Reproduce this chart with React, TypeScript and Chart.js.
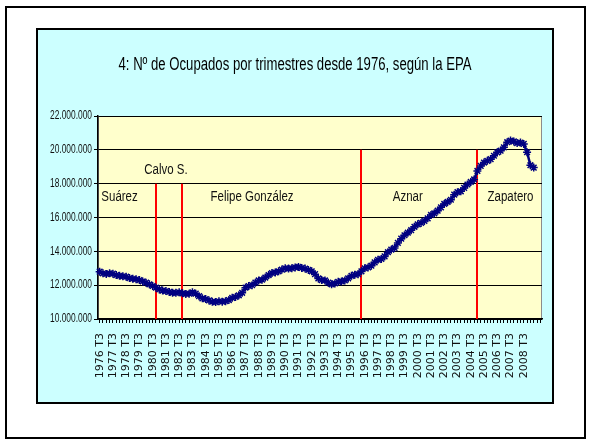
import React, { useEffect, useRef } from "react";
import { Chart, registerables } from "chart.js";

Chart.register(...registerables);

// ---- data ----
const TITLE = "4: Nº de Ocupados por trimestres desde 1976, según la EPA";

// Quarterly categories 1976 T3 … 2009 T4
const FIRST_YEAR = 1976;
const FIRST_QUARTER = 3;
const LAST_YEAR = 2009;
const LAST_QUARTER = 4;
const LAST_LABELED = "2008 T3";
const LABEL_EVERY = 4;

const QUARTERS: string[] = [];
for (let y = FIRST_YEAR; y <= LAST_YEAR; y++) {
  for (let q = 1; q <= 4; q++) {
    if (y === FIRST_YEAR && q < FIRST_QUARTER) continue;
    if (y === LAST_YEAR && q > LAST_QUARTER) continue;
    QUARTERS.push(`${y} T${q}`);
  }
}

// Employed persons, millions (1976 T3 … 2009 T2)
const OCUPADOS: number[] = [
  12.80, 12.70,
  12.66, 12.70, 12.68, 12.60,
  12.55, 12.52, 12.50, 12.42,
  12.38, 12.35, 12.30, 12.22,
  12.15, 12.05, 11.95, 11.85,
  11.75, 11.68, 11.65, 11.60,
  11.55, 11.55, 11.58, 11.52,
  11.48, 11.50, 11.58, 11.50,
  11.35, 11.22, 11.18, 11.10,
  11.02, 11.00, 11.05, 11.02,
  11.05, 11.12, 11.25, 11.30,
  11.40, 11.55, 11.85, 11.95,
  12.00, 12.15, 12.28, 12.32,
  12.45, 12.60, 12.72, 12.75,
  12.82, 12.92, 13.00, 12.98,
  13.00, 13.05, 13.08, 13.02,
  12.98, 12.90, 12.82, 12.65,
  12.40, 12.30, 12.28, 12.15,
  12.05, 12.10, 12.20, 12.22,
  12.28, 12.40, 12.55, 12.62,
  12.65, 12.82, 13.00, 13.05,
  13.15, 13.35, 13.50, 13.55,
  13.70, 13.95, 14.10, 14.20,
  14.50, 14.75, 14.95, 15.10,
  15.25, 15.45, 15.60, 15.68,
  15.80, 15.95, 16.15, 16.25,
  16.40, 16.60, 16.80, 16.92,
  17.05, 17.35, 17.50, 17.55,
  17.75, 17.95, 18.10, 18.25,
  18.75, 19.05, 19.25, 19.35,
  19.45, 19.65, 19.85, 19.95,
  20.15, 20.45, 20.55, 20.50,
  20.40, 20.43, 20.35, 19.86,
  19.09, 18.95,
];

// Y axis (millions)
const Y_MIN = 10;
const Y_MAX = 22;
const Y_STEP = 2;

// Government changes: red markers (quarter, top value in millions)
const CHANGE_QUARTERS = ["1980 T4", "1982 T4", "1996 T2", "2005 T1"];
const CHANGE_TOPS = [18, 18, 20, 20];

// Period names, anchored at a quarter and a value (millions)
const PERIOD_NAMES = ["Suárez", "Calvo S.", "Felipe González", "Aznar", "Zapatero"];
const PERIOD_AT = ["1978 T1", "1981 T3", "1988 T1", "1999 T4", "2007 T3"];
const PERIOD_VALUE = [17.2, 18.8, 17.2, 17.2, 17.2];

// ---- styling ----
const SANS = '"Liberation Sans", Arial, sans-serif';
const WIDE = '"DejaVu Sans", Verdana, sans-serif';

function fmtMillions(v: number): string {
  const n = Math.round(v * 1e6);
  return String(n).replace(/\B(?=(\d{3})+(?!\d))/g, ".");
}

function narrowText(
  ctx: CanvasRenderingContext2D,
  text: string,
  x: number,
  y: number,
  size: number,
  sx: number,
  align: CanvasTextAlign
) {
  ctx.save();
  ctx.font = `${size}px ${SANS}`;
  ctx.textAlign = align;
  ctx.textBaseline = "middle";
  ctx.translate(x, y);
  ctx.scale(sx, 1);
  ctx.fillText(text, 0, 0);
  ctx.restore();
}

const overlay = {
  id: "overlay",
  beforeDraw(chart: any) {
    const { ctx, chartArea: a, width } = chart;
    ctx.save();
    ctx.fillStyle = "#FFFFCC";
    ctx.fillRect(a.left, a.top, a.right - a.left, a.bottom - a.top);
    ctx.strokeStyle = "#8c8c8c";
    ctx.lineWidth = 1;
    ctx.strokeRect(a.left + 0.5, a.top + 0.5, a.right - a.left - 1, a.bottom - a.top);
    ctx.fillStyle = "#000";
    narrowText(ctx, TITLE, width / 2, 35, 18, 0.73, "center");
    ctx.restore();
  },
  beforeDatasetsDraw(chart: any) {
    const { ctx, scales } = chart;
    const x = scales.x;
    const y = scales.y;
    ctx.save();
    ctx.strokeStyle = "#FF0000";
    ctx.lineWidth = 2;
    CHANGE_QUARTERS.forEach((q, i) => {
      const idx = QUARTERS.indexOf(q);
      const px = Math.round(x.getPixelForValue(idx));
      ctx.beginPath();
      ctx.moveTo(px, y.getPixelForValue(CHANGE_TOPS[i]));
      ctx.lineTo(px, y.getPixelForValue(Y_MIN));
      ctx.stroke();
    });
    ctx.restore();
  },
  afterDatasetsDraw(chart: any) {
    const { ctx, scales } = chart;
    const x = scales.x;
    const y = scales.y;
    ctx.save();
    ctx.fillStyle = "#111";
    PERIOD_NAMES.forEach((name, i) => {
      const idx = QUARTERS.indexOf(PERIOD_AT[i]);
      narrowText(ctx, name, x.getPixelForValue(idx), y.getPixelForValue(PERIOD_VALUE[i]), 14, 0.82, "center");
    });
    // y tick labels (narrow)
    ctx.fillStyle = "#111";
    y.ticks.forEach((t: any) => {
      narrowText(ctx, fmtMillions(t.value), y.left + y.width - 6, y.getPixelForValue(t.value), 12, 0.7, "right");
    });
    ctx.restore();
  },
};

export default function App() {
  const ref = useRef<HTMLCanvasElement | null>(null);

  useEffect(() => {
    if (!ref.current) return;
    const chart = new Chart(ref.current, {
      type: "line",
      data: {
        labels: QUARTERS,
        datasets: [
          {
            data: OCUPADOS,
            borderColor: "#000080",
            backgroundColor: "#000080",
            borderWidth: 2.5,
            pointStyle: "star",
            pointRadius: 4,
            pointBorderWidth: 1.5,
            pointBorderColor: "#000080",
            tension: 0,
          },
        ],
      },
      options: {
        responsive: false,
        animation: false,
        maintainAspectRatio: false,
        layout: { padding: { left: 0, right: 10, top: 86, bottom: 0 } },
        plugins: {
          legend: { display: false },
          tooltip: { enabled: false },
          title: { display: false },
        },
        scales: {
          x: {
            type: "category",
            offset: true,
            grid: { drawOnChartArea: false, drawTicks: true, tickLength: 4, color: "#000" },
            border: { color: "#000", width: 1.5 },
            ticks: {
              autoSkip: false,
              maxRotation: 90,
              minRotation: 90,
              padding: 10,
              color: "#111",
              font: { family: WIDE, size: 11 },
              callback: (_v: any, i: number) => {
                const lastIdx = QUARTERS.indexOf(LAST_LABELED);
                return i % LABEL_EVERY === 0 && i <= lastIdx ? QUARTERS[i] : "";
              },
            },
            afterFit: (s: any) => {
              s.height = 83;
              s.paddingLeft = 0;
              s.paddingRight = 0;
            },
          },
          y: {
            min: Y_MIN,
            max: Y_MAX,
            grid: { color: "#000", lineWidth: 1, tickLength: 4 },
            border: { color: "#000", width: 1.5 },
            ticks: {
              stepSize: Y_STEP,
              display: false,
            },
            afterFit: (s: any) => {
              s.width = 60;
              s.paddingTop = 0;
              s.paddingBottom = 0;
            },
          },
        },
      },
      plugins: [overlay],
    } as any);
    return () => chart.destroy();
  }, []);

  return (
    <div style={{ position: "fixed", left: 0, top: 0, width: 590, height: 443, background: "#fff" }}>
      <div
        style={{
          position: "absolute",
          left: 5,
          top: 6,
          width: 581,
          height: 433,
          border: "2px solid #000",
          boxSizing: "border-box",
        }}
      />
      <div
        style={{
          position: "absolute",
          left: 36,
          top: 28,
          width: 518,
          height: 376,
          background: "#CCFFFF",
          border: "2px solid #000",
          boxSizing: "border-box",
        }}
      >
        <canvas ref={ref} width={514} height={372} style={{ display: "block", width: 514, height: 372 }} />
      </div>
    </div>
  );
}
